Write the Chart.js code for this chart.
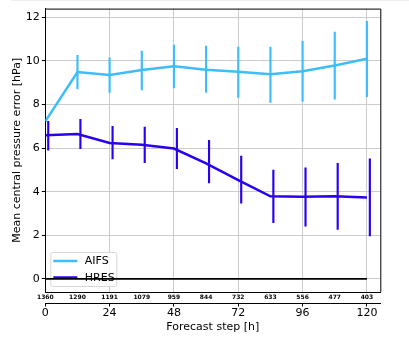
<!DOCTYPE html>
<html>
<head>
<meta charset="utf-8">
<script src="https://cdn.jsdelivr.net/npm/chart.js@4.4.0/dist/chart.umd.min.js"></script>
<style>
  body { margin: 0; background: #fff; }
  #wrap { position: relative; width: 409px; height: 337px; }
  #strip { position: absolute; left: 11px; top: 0; right: 0; height: 1px; background: #eeeeee; }
</style>
</head>
<body>
<div id="wrap">
  <div id="strip"></div>
  <canvas id="grafico" width="409" height="337"></canvas>
</div>
<script>
const steps = [0, 12, 24, 36, 48, 60, 72, 84, 96, 108, 120];
const counts = [1360, 1290, 1191, 1079, 959, 844, 732, 633, 556, 477, 403];
const stepTicks = [0, 24, 48, 72, 96, 120];

const aifsMean = [7.23, 9.49, 9.36, 9.58, 9.76, 9.6, 9.5, 9.39, 9.53, 9.79, 10.1];
const aifsLow = [null, 8.71, 8.56, 8.67, 8.76, 8.56, 8.33, 8.1, 8.14, 8.24, 8.36];
const aifsHigh = [null, 10.26, 10.14, 10.45, 10.73, 10.68, 10.64, 10.64, 10.9, 11.32, 11.82];

const hresMean = [6.59, 6.65, 6.24, 6.15, 5.98, 5.3, 4.53, 3.79, 3.77, 3.79, 3.73];
const hresLow = [5.91, 5.97, 5.51, 5.33, 5.06, 4.4, 3.47, 2.58, 2.42, 2.27, 1.97];
const hresHigh = [7.23, 7.32, 7.0, 6.97, 6.91, 6.36, 5.64, 4.99, 5.1, 5.3, 5.51];

const hresShift = 1.1; // error bars of HRES drawn slightly to the right

const colorAifs = "#3dbdfa";
const colorHres = "#2b00f0";
const fuente = "'DejaVu Sans', sans-serif";

function puntos(valores, shift) {
  return steps.map((t, i) => ({ x: t + shift, y: valores[i] }));
}

function barras(low, high, shift) {
  const out = [];
  steps.forEach((t, i) => {
    if (low[i] !== null && high[i] !== null) {
      out.push({ x: t + shift, y: [low[i], high[i]] });
    }
  });
  return out;
}

const marco = {
  id: "marco",
  afterDraw(chart) {
    const { ctx, chartArea } = chart;
    ctx.save();
    ctx.strokeStyle = "#000";
    ctx.lineWidth = 1;
    ctx.beginPath();
    ctx.moveTo(chartArea.left, chartArea.top + 0.5);
    ctx.lineTo(chartArea.right + 0.5, chartArea.top + 0.5);
    ctx.lineTo(chartArea.right + 0.5, chartArea.bottom);
    ctx.stroke();
    ctx.restore();
  },
};

const leyenda = {
  id: "leyenda",
  beforeDatasetsDraw(chart) {
    const { ctx, chartArea } = chart;
    const x0 = chartArea.left + 5.5;
    const y0 = chartArea.bottom - 39.5;
    const w = 66;
    const h = 34;
    ctx.save();
    ctx.fillStyle = "rgba(255,255,255,0.8)";
    ctx.strokeStyle = "#d8d8d8";
    ctx.lineWidth = 1;
    ctx.beginPath();
    ctx.roundRect(x0, y0, w, h, 2);
    ctx.fill();
    ctx.stroke();
    const items = chart.data.datasets.filter((d) => d.type === "line" && d.label);
    items.forEach((d, i) => {
      const y = y0 + 8.5 + i * 16.5;
      ctx.strokeStyle = d.borderColor;
      ctx.lineWidth = 2.5;
      ctx.beginPath();
      ctx.moveTo(x0 + 2.5, y);
      ctx.lineTo(x0 + 26.5, y);
      ctx.stroke();
      ctx.fillStyle = "#000";
      ctx.font = "11px " + fuente;
      ctx.textBaseline = "middle";
      ctx.fillText(d.label, x0 + 34, y + 0.5);
    });
    ctx.restore();
  },
};

const config = {
  type: "line",
  data: {
    datasets: [
      {
        type: "line",
        label: "AIFS",
        data: puntos(aifsMean, 0),
        borderColor: colorAifs,
        borderWidth: 2.5,
        pointRadius: 0,
        tension: 0,
        xAxisID: "x",
      },
      {
        type: "bar",
        data: barras(aifsLow, aifsHigh, 0),
        backgroundColor: colorAifs,
        barThickness: 1.5,
        grouped: false,
        xAxisID: "x",
      },
      {
        type: "line",
        label: "HRES",
        data: puntos(hresMean, 0),
        borderColor: colorHres,
        borderWidth: 2.5,
        pointRadius: 0,
        tension: 0,
        xAxisID: "x",
      },
      {
        type: "bar",
        data: barras(hresLow, hresHigh, hresShift),
        backgroundColor: colorHres,
        barThickness: 1.5,
        grouped: false,
        xAxisID: "x",
      },
      {
        type: "line",
        data: [
          { x: steps[0], y: 0 },
          { x: steps[steps.length - 1], y: 0 },
        ],
        borderColor: "#000",
        borderWidth: 1.8,
        pointRadius: 0,
        xAxisID: "x",
      },
    ],
  },
  options: {
    responsive: false,
    animation: false,
    layout: { padding: { left: 0, right: 28.7, top: 6, bottom: 0 } },
    plugins: { legend: { display: false }, tooltip: { enabled: false } },
    scales: {
      x: {
        type: "linear",
        position: "bottom",
        min: 0,
        max: 125,
        offset: false,
        grid: { display: false, drawTicks: false, offset: false },
        border: { color: "#000", width: 1 },
        ticks: {
          autoSkip: false,
          maxRotation: 0,
          padding: 2,
          color: "#000",
          font: { family: fuente, size: 6, weight: "bold" },
          callback: (v) => counts[steps.indexOf(v)],
        },
        afterBuildTicks: (s) => {
          s.ticks = steps.map((v) => ({ value: v }));
        },
        afterFit: (s) => {
          s.height = 11;
        },
      },
      x2: {
        type: "linear",
        position: "bottom",
        min: 0,
        max: 125,
        offset: false,
        grid: { color: "#cccccc", tickColor: "#000", tickLength: 3.5, drawOnChartArea: true },
        border: { color: "#000", width: 1 },
        ticks: {
          stepSize: 24,
          includeBounds: false,
          maxRotation: 0,
          padding: 0,
          color: "#000",
          font: { family: fuente, size: 11 },
        },
        afterBuildTicks: (s) => {
          s.ticks = stepTicks.map((v) => ({ value: v }));
        },
        title: {
          display: true,
          text: "Forecast step [h]",
          color: "#000",
          font: { family: fuente, size: 11 },
          padding: { top: 0, bottom: 3 },
        },
        afterFit: (s) => {
          s.height = 34;
        },
      },
      y: {
        type: "linear",
        min: -0.6,
        max: 12.4,
        grid: { color: "#cccccc", tickColor: "#000", tickLength: 3.5 },
        border: { color: "#000", width: 1 },
        ticks: {
          stepSize: 2,
          includeBounds: false,
          padding: 2,
          color: "#000",
          font: { family: fuente, size: 11 },
        },
        title: {
          display: true,
          text: "Mean central pressure error [hPa]",
          color: "#000",
          font: { family: fuente, size: 11 },
          padding: { top: 11, bottom: 0 },
        },
        afterFit: (s) => {
          s.width = 45.3;
        },
      },
    },
  },
  plugins: [marco, leyenda],
};

new Chart(document.getElementById("grafico"), config);
</script>
</body>
</html>
